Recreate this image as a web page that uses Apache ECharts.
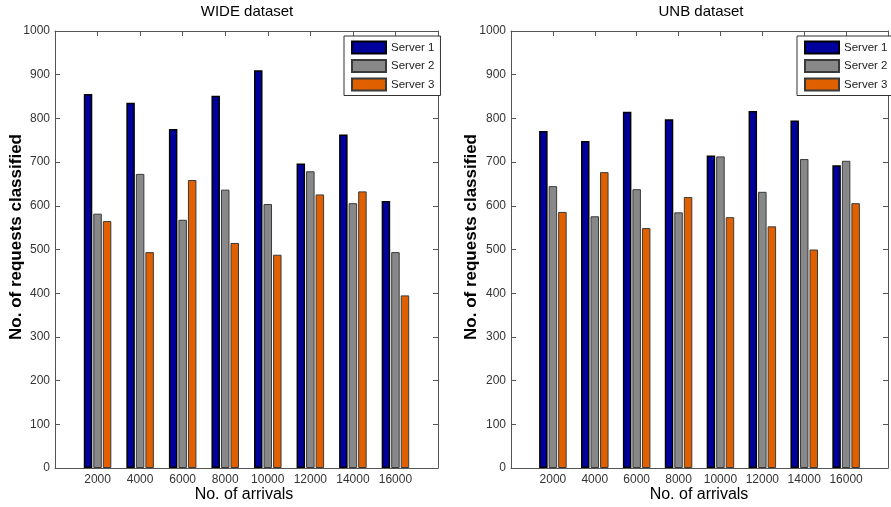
<!DOCTYPE html>
<html>
<head>
<meta charset="utf-8">
<script src="https://cdn.jsdelivr.net/npm/echarts@6/dist/echarts.min.js"></script>
<style>
  html, body { margin: 0; padding: 0; background: #fff; }
  #chart { width: 891px; height: 507px; }
</style>
</head>
<body>
<div id="chart"></div>
<script>
// Number of arrivals (x positions of the bar groups)
const arrivals = [2000, 4000, 6000, 8000, 10000, 12000, 14000, 16000];
const seriesNames = ['Server 1', 'Server 2', 'Server 3'];

// WIDE dataset: requests classified per server
const wideServer1 = [856, 836, 776, 852, 910, 697, 763, 611];
const wideServer2 = [582, 673, 568, 637, 604, 679, 606, 494];
const wideServer3 = [565, 494, 659, 515, 488, 626, 633, 395];

// UNB dataset: requests classified per server
const unbServer1 = [771, 748, 815, 798, 715, 817, 795, 693];
const unbServer2 = [645, 576, 638, 585, 713, 632, 707, 703];
const unbServer3 = [586, 677, 549, 620, 574, 553, 500, 606];

// y-axis tick values
const yTicks = [0, 100, 200, 300, 400, 500, 600, 700, 800, 900, 1000];

const colors = ['#00009c', '#888888', '#e06000'];
const borders = ['#000000', '#3a3a3a', '#3a3a3a'];
const tickFont = "'Liberation Sans', Arial, sans-serif";
const textFont = "'Liberation Sans', Arial, sans-serif";
const axisColor = '#555555';

const chart = echarts.init(document.getElementById('chart'), null, { renderer: 'canvas' });

const grids = [
  { left: 55, top: 31, width: 383, height: 437 },
  { left: 511, top: 31, width: 382, height: 437 }
];

const frameLine = { show: true, onZero: false, lineStyle: { color: axisColor, width: 1 } };
const innerTick = { show: true, inside: true, length: 5, lineStyle: { color: axisColor } };

function xAxes(gridIndex) {
  const base = {
    type: 'value', gridIndex, min: 0, max: 18000, interval: 2000,
    splitLine: { show: false }, axisLine: frameLine, axisTick: innerTick
  };
  return [
    Object.assign({}, base, {
      position: 'bottom',
      axisLabel: {
        margin: 6, color: '#333', fontSize: 12, fontFamily: tickFont,
        formatter: v => (v === 0 || v === 18000) ? '' : String(v)
      }
    }),
    Object.assign({}, base, { position: 'top', axisLabel: { show: false } })
  ];
}

function yAxes(gridIndex) {
  const base = {
    type: 'value', gridIndex, min: yTicks[0], max: yTicks[yTicks.length - 1],
    interval: yTicks[1] - yTicks[0],
    splitLine: { show: false }, axisLine: frameLine, axisTick: innerTick
  };
  return [
    Object.assign({}, base, {
      position: 'left',
      axisLabel: {
        margin: 5, color: '#333', fontSize: 12, fontFamily: tickFont,
        formatter: v => String(v)
      }
    }),
    Object.assign({}, base, { position: 'right', axisLabel: { show: false } })
  ];
}

function barSeries(gridIndex, valueLists) {
  return valueLists.map((vals, k) => ({
    name: seriesNames[k],
    type: 'bar',
    xAxisIndex: gridIndex * 2,
    yAxisIndex: gridIndex * 2,
    barWidth: 8.5,
    barGap: '12%',
    data: arrivals.map((a, i) => [a, vals[i]]),
    itemStyle: { color: colors[k], borderColor: borders[k], borderWidth: k === 0 ? 1.5 : 1 },
    emphasis: { disabled: true },
    animation: false
  }));
}

function legend(left) {
  return {
    orient: 'vertical', left, top: 36,
    data: seriesNames,
    icon: 'rect',
    itemWidth: 34, itemHeight: 12, itemGap: 4.5,
    padding: [4.5, 6, 4, 7],
    backgroundColor: '#fff',
    borderColor: '#333', borderWidth: 1, borderRadius: 0,
    selectedMode: false,
    textStyle: { fontSize: 11.5, fontFamily: tickFont, color: '#222' }
  };
}

function label(text, x, y, size, weight, rotate) {
  return {
    type: 'text', x, y, rotation: rotate ? Math.PI / 2 : 0,
    style: {
      text, fill: '#000', align: 'center', verticalAlign: 'middle',
      font: `${weight} ${size}px ${textFont}`
    }
  };
}

chart.setOption({
  backgroundColor: '#fff',
  animation: false,
  grid: grids,
  xAxis: [...xAxes(0), ...xAxes(1)],
  yAxis: [...yAxes(0), ...yAxes(1)],
  legend: [legend(344), legend(797)],
  series: [
    ...barSeries(0, [wideServer1, wideServer2, wideServer3]),
    ...barSeries(1, [unbServer1, unbServer2, unbServer3])
  ],
  graphic: [
    label('WIDE dataset', 247, 12, 15, 'normal', false),
    label('UNB dataset', 701, 12, 15, 'normal', false),
    label('No. of arrivals', 244, 495, 16, 'normal', false),
    label('No. of arrivals', 699, 495, 16, 'normal', false),
    label('No. of requests classified', 16, 237, 17, 'bold', true),
    label('No. of requests classified', 471, 237, 17, 'bold', true)
  ]
});
</script>
</body>
</html>
